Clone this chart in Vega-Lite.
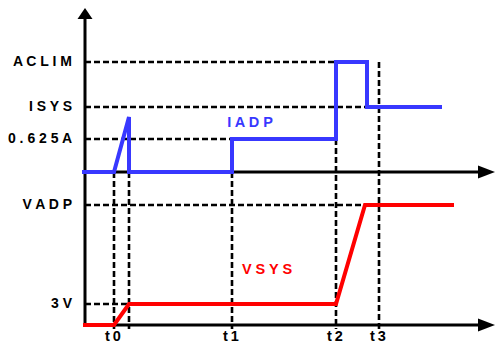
{
  "$schema": "https://vega.github.io/schema/vega-lite/v6.json",
  "width": 495,
  "height": 344,
  "padding": 0,
  "autosize": {"type": "none"},
  "background": "white",
  "config": {"view": {"stroke": null}},
  "datasets": {
    "guides": [
      {"name": "ACLIM", "xa": 85, "xb": 336, "ya": 62, "yb": 62},
      {"name": "ISYS", "xa": 85, "xb": 367, "ya": 107, "yb": 107},
      {"name": "0.625A", "xa": 85, "xb": 232, "ya": 139, "yb": 139},
      {"name": "VADP", "xa": 85, "xb": 365, "ya": 205, "yb": 205},
      {"name": "3V", "xa": 85, "xb": 129, "ya": 304, "yb": 304},
      {"name": "t0", "xa": 114, "xb": 114, "ya": 172, "yb": 329},
      {"name": "t0end", "xa": 129, "xb": 129, "ya": 172, "yb": 329},
      {"name": "t1", "xa": 232, "xb": 232, "ya": 172, "yb": 329},
      {"name": "t2", "xa": 336, "xb": 336, "ya": 139, "yb": 329},
      {"name": "t3", "xa": 379, "xb": 379, "ya": 62, "yb": 329}
    ],
    "axes": [
      {"xa": 85, "xb": 85, "ya": 12, "yb": 327},
      {"xa": 84, "xb": 482, "ya": 172, "yb": 172},
      {"xa": 84, "xb": 482, "ya": 325, "yb": 325}
    ],
    "arrows": [
      {"dir": "up", "x": 85, "y": 13.5},
      {"dir": "right", "x": 486.5, "y": 172},
      {"dir": "right", "x": 486.5, "y": 325}
    ],
    "iadp": [
      {"i": 0, "t": 82, "v": 172},
      {"i": 1, "t": 114, "v": 172},
      {"i": 2, "t": 129, "v": 117},
      {"i": 3, "t": 129, "v": 172},
      {"i": 4, "t": 232, "v": 172},
      {"i": 5, "t": 232, "v": 139},
      {"i": 6, "t": 336, "v": 139},
      {"i": 7, "t": 336, "v": 62},
      {"i": 8, "t": 367, "v": 62},
      {"i": 9, "t": 367, "v": 107},
      {"i": 10, "t": 442, "v": 107}
    ],
    "vsys": [
      {"i": 0, "t": 83, "v": 325},
      {"i": 1, "t": 114, "v": 325},
      {"i": 2, "t": 129, "v": 304},
      {"i": 3, "t": 336, "v": 304},
      {"i": 4, "t": 365, "v": 205},
      {"i": 5, "t": 454, "v": 205}
    ],
    "ylabels": [
      {"label": "A C L I M", "x": 72, "y": 62},
      {"label": "I S Y S", "x": 72, "y": 107},
      {"label": "0 . 6 2 5 A", "x": 72, "y": 139},
      {"label": "V A D P", "x": 72, "y": 205},
      {"label": "3 V", "x": 72, "y": 304}
    ],
    "tlabels": [
      {"label": "t\u20090", "x": 113, "y": 337},
      {"label": "t\u20091", "x": 231, "y": 337},
      {"label": "t\u20092", "x": 335, "y": 337},
      {"label": "t\u20093", "x": 378, "y": 337}
    ],
    "names": [
      {"label": "I A D P", "x": 250, "y": 123, "c": "blue"},
      {"label": "V S Y S", "x": 267, "y": 270, "c": "red"}
    ]
  },
  "layer": [
    {
      "data": {"name": "guides"},
      "mark": {"type": "rule", "color": "black", "strokeWidth": 2.6, "strokeDash": [6, 3]},
      "encoding": {
        "x": {"field": "xa", "type": "quantitative", "scale": {"domain": [0, 495], "nice": false, "zero": false}, "axis": null},
        "x2": {"field": "xb"},
        "y": {"field": "ya", "type": "quantitative", "scale": {"domain": [0, 344], "reverse": true, "nice": false, "zero": false}, "axis": null},
        "y2": {"field": "yb"}
      }
    },
    {
      "data": {"name": "axes"},
      "mark": {"type": "rule", "color": "black", "strokeWidth": 3},
      "encoding": {
        "x": {"field": "xa", "type": "quantitative"},
        "x2": {"field": "xb"},
        "y": {"field": "ya", "type": "quantitative"},
        "y2": {"field": "yb"}
      }
    },
    {
      "data": {"name": "iadp"},
      "mark": {"type": "line", "color": "#3838ff", "strokeWidth": 4, "strokeJoin": "miter"},
      "encoding": {
        "x": {"field": "t", "type": "quantitative"},
        "y": {"field": "v", "type": "quantitative"},
        "order": {"field": "i"}
      }
    },
    {
      "data": {"name": "vsys"},
      "mark": {"type": "line", "color": "#ff0000", "strokeWidth": 4, "strokeJoin": "miter"},
      "encoding": {
        "x": {"field": "t", "type": "quantitative"},
        "y": {"field": "v", "type": "quantitative"},
        "order": {"field": "i"}
      }
    },
    {
      "data": {"name": "arrows"},
      "transform": [{"filter": "datum.dir === 'up'"}],
      "mark": {"type": "point", "filled": true, "color": "black", "opacity": 1, "size": 225, "shape": "M-1,0.73L0,-0.73L1,0.73Z"},
      "encoding": {
        "x": {"field": "x", "type": "quantitative"},
        "y": {"field": "y", "type": "quantitative"}
      }
    },
    {
      "data": {"name": "arrows"},
      "transform": [{"filter": "datum.dir === 'right'"}],
      "mark": {"type": "point", "filled": true, "color": "black", "opacity": 1, "size": 289, "shape": "M-1,-0.76L1,0L-1,0.76Z"},
      "encoding": {
        "x": {"field": "x", "type": "quantitative"},
        "y": {"field": "y", "type": "quantitative"}
      }
    },
    {
      "data": {"name": "ylabels"},
      "mark": {"type": "text", "align": "right", "baseline": "middle", "font": "Liberation Sans", "fontWeight": "bold", "fontSize": 14, "color": "black"},
      "encoding": {
        "x": {"field": "x", "type": "quantitative"},
        "y": {"field": "y", "type": "quantitative"},
        "text": {"field": "label"}
      }
    },
    {
      "data": {"name": "tlabels"},
      "mark": {"type": "text", "align": "center", "baseline": "middle", "font": "Liberation Sans", "fontWeight": "bold", "fontSize": 14.5, "color": "black"},
      "encoding": {
        "x": {"field": "x", "type": "quantitative"},
        "y": {"field": "y", "type": "quantitative"},
        "text": {"field": "label"}
      }
    },
    {
      "data": {"name": "names"},
      "mark": {"type": "text", "align": "center", "baseline": "middle", "font": "Liberation Sans", "fontWeight": "bold", "fontSize": 14.5},
      "encoding": {
        "x": {"field": "x", "type": "quantitative"},
        "y": {"field": "y", "type": "quantitative"},
        "text": {"field": "label"},
        "color": {"field": "c", "type": "nominal", "scale": {"domain": ["blue", "red"], "range": ["#3838ff", "#ff0000"]}, "legend": null}
      }
    }
  ]
}
